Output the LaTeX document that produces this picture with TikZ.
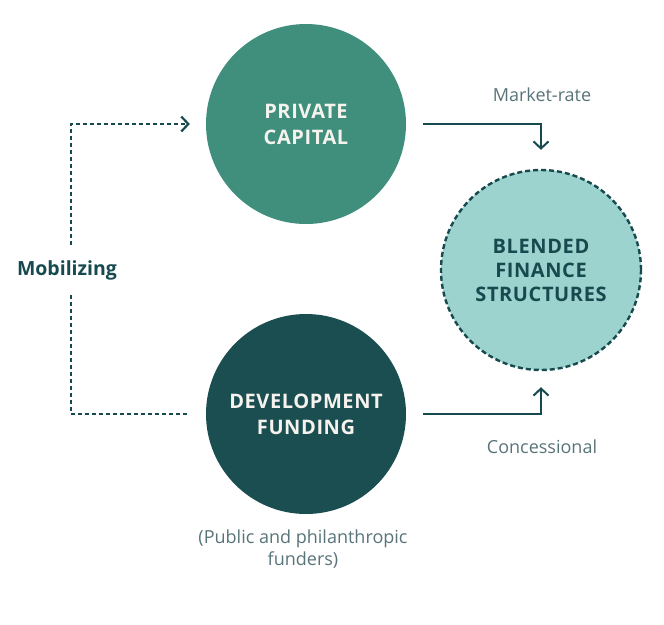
\documentclass[tikz,border=0pt]{standalone}
\usepackage{fontspec}
\setmainfont{Open Sans}
\newfontfamily\capsfont[LetterSpace=3]{Open Sans}
\usepackage{tikz}
\usetikzlibrary{arrows.meta}
\definecolor{privgreen}{HTML}{3F8F7C}
\definecolor{devteal}{HTML}{1B4E51}
\definecolor{blendteal}{HTML}{9DD3CF}
\definecolor{inkteal}{HTML}{174A4F}
\definecolor{notegray}{HTML}{587479}
\definecolor{offwhite}{HTML}{F6F3EE}
\tikzstyle{bubble} = [circle, minimum size=200pt, inner sep=0pt,
    align=center, font=\capsfont\bfseries\fontsize{20}{26}\selectfont]
\tikzstyle{note} = [text=notegray, font=\fontsize{18}{22}\selectfont]
\tikzstyle{flow} = [draw=inkteal, line width=2pt]
\tikzstyle{mobil} = [draw=inkteal, line width=2.2pt, dash pattern=on 4pt off 3pt]
\tikzset{>={Straight Barb[length=7pt,width=15pt]}}

\begin{document}
\begin{tikzpicture}[x=1pt,y=-1pt]
    \useasboundingbox (0,0) rectangle (664,624);
    \node[bubble, fill=privgreen, text=offwhite] (priv) at (306,124) {PRIVATE\\CAPITAL};
    \node[bubble, fill=devteal, text=offwhite] (dev) at (306,414) {DEVELOPMENT\\FUNDING};
    \node[bubble, fill=blendteal, text=inkteal, draw=inkteal, line width=2.4pt,
        dash pattern=on 5pt off 3pt, font=\capsfont\bfseries\fontsize{20}{24}\selectfont]
        (blend) at (541,270) {BLENDED\\FINANCE\\STRUCTURES};
    \node[text=inkteal, font=\bfseries\fontsize{19.5}{22}\selectfont] (mob) at (67,270) {Mobilizing};
    \node[note] (market) at (542,95) {Market-rate};
    \node[note] (conc) at (542,447) {Concessional};
    \node[note, align=center] (funders) at (303,549) {(Public and philanthropic\\funders)};
    \draw[mobil, ->, shorten <=12pt, shorten >=16pt] ([xshift=4pt]mob.north) |- (priv.west);
    \draw[mobil, shorten <=12pt, shorten >=16pt] ([xshift=4pt]mob.south) |- (dev.west);
    \draw[flow, ->, shorten <=17pt, shorten >=19pt] (priv.east) -| (blend.north);
    \draw[flow, ->, shorten <=17pt, shorten >=16pt] (dev.east) -| (blend.south);
\end{tikzpicture}
\end{document}
